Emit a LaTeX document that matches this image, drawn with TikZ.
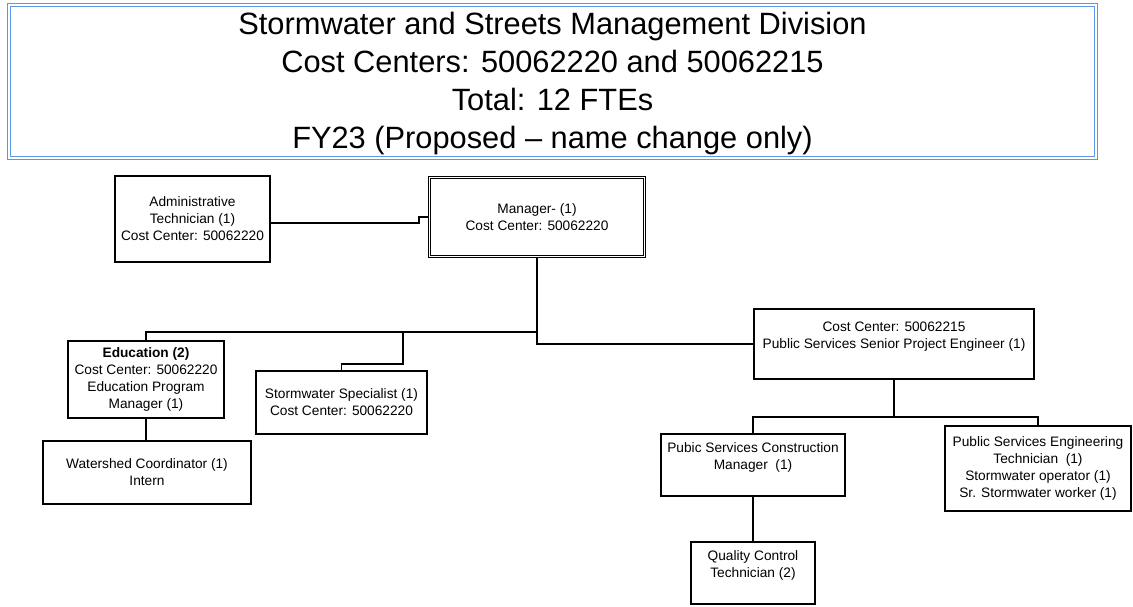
\documentclass[tikz,border=0pt]{standalone}
\usepackage{fontspec}
\setmainfont{Liberation Sans}
\definecolor{titleblue}{RGB}{90,150,235}
\begin{document}
\begin{tikzpicture}[x=1pt,y=-1pt,
  box/.style={draw=black, line width=1.3pt, inner sep=0pt, align=center,
    font=\fontsize{13.7}{17}\selectfont},
  conn/.style={draw=black, line width=1.3pt}]
\useasboundingbox (0,0) rectangle (1133,606);
\fill[white] (0,0) rectangle (1133,606);

\node[draw=titleblue, line width=1.2pt, double=white, double distance=2.4pt,
  minimum width=1087pt, minimum height=153pt, inner sep=0pt, align=center,
  font=\fontsize{30.8}{38}\selectfont] (title) at (552.5,81.5)
  {\rule{0pt}{26pt}Stormwater and Streets Management Division\\Cost Centers: 50062220 and 50062215\\Total: 12 FTEs\\FY23 (Proposed -- name change only)};

\node[box, minimum width=155pt, minimum height=86pt] (admin) at (192.5,219)
  {Administrative\\Technician (1)\\Cost Center: 50062220};
\node[box, line width=0.8pt, double=white, double distance=1.6pt,
  minimum width=215pt, minimum height=79pt] (mgr) at (537,217)
  {Manager- (1)\\Cost Center: 50062220};
\node[box, minimum width=156pt, minimum height=77pt] (edu) at (146,379.5)
  {\textbf{Education (2)}\\Cost Center: 50062220\\Education Program\\Manager (1)};
\node[box, minimum width=208pt, minimum height=63pt] (ws) at (147,472.5)
  {Watershed Coordinator (1)\\Intern};
\node[box, minimum width=171pt, minimum height=63pt] (spec) at (341.5,402.5)
  {Stormwater Specialist (1)\\Cost Center: 50062220};
\node[box, minimum width=280pt, minimum height=70pt] (pse) at (894,344)
  {Cost Center: 50062215\\Public Services Senior Project Engineer (1)\\\mbox{}};
\node[box, minimum width=184pt, minimum height=62pt] (cons) at (753,465)
  {Pubic Services Construction\\Manager \ (1)\\\mbox{}};
\node[box, minimum width=186pt, minimum height=85pt] (peng) at (1038,468.5)
  {Public Services Engineering\\Technician \ (1)\\Stormwater operator (1)\\Sr. Stormwater worker (1)};
\node[box, minimum width=124pt, minimum height=62pt] (qc) at (753,573)
  {Quality Control\\Technician (2)\\\mbox{}};

\coordinate (jog) at (419,0);
\coordinate (bus) at (537,332);
\coordinate (specjog) at (403,364);
\coordinate (bus2) at (894,417);

\draw[conn] ([yshift=-4pt]admin.east) -- ([yshift=-4pt]admin.east -| jog) |- (mgr.west);
\draw[conn] (mgr.south) -- (mgr.south |- pse.west) -- (pse.west);
\draw[conn] (edu.north) |- (bus);
\draw[conn] (specjog |- bus) -- (specjog) -| (spec.north);
\draw[conn] (edu.south) -- (edu.south |- ws.north);
\draw[conn] (pse.south) -- (bus2);
\draw[conn] (cons.north) |- (bus2) -| (peng.north);
\draw[conn] (cons.south) -- (cons.south |- qc.north);
\end{tikzpicture}
\end{document}
